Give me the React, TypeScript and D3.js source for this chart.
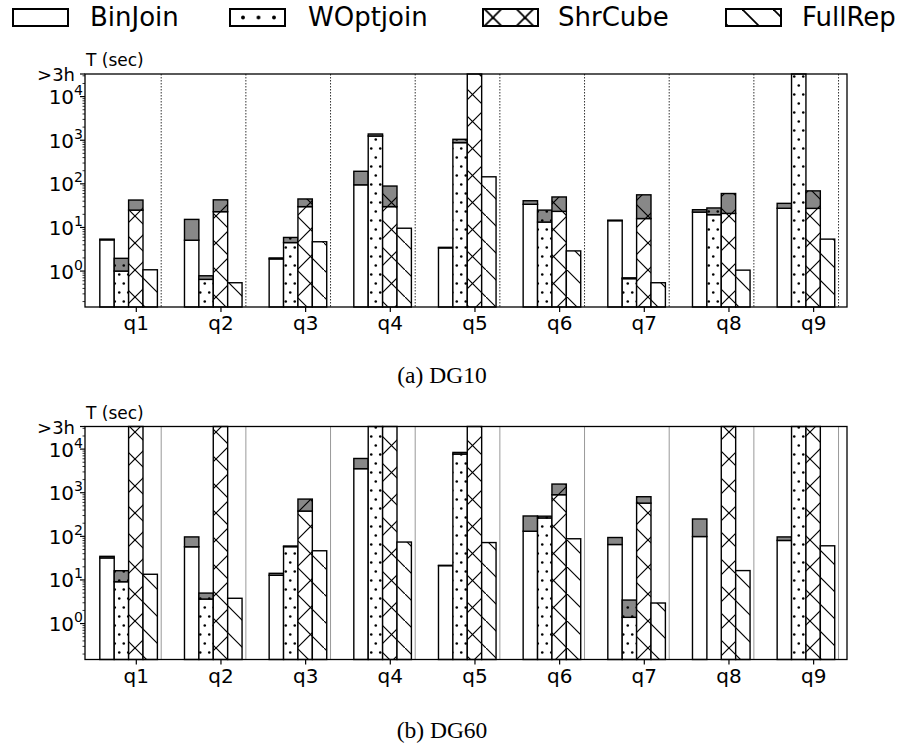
import React, { useEffect, useRef } from 'react';
import * as d3 from 'd3';

const queries = ['q1', 'q2', 'q3', 'q4', 'q5', 'q6', 'q7', 'q8', 'q9'];
const algorithms = ['BinJoin', 'WOptjoin', 'ShrCube', 'FullRep'];
const hatchIds = ['', 'hDots', 'hCross', 'hDiag'];
const legendHatch = ['', 'lDots', 'lCross', 'lDiag'];

// value used for runs that hit the ">3h" limit (drawn to the top of the axis)
const OVER = 33000;
const Y_MIN = 0.15;

// DG10: white part (base) and top of grey part (total)
const dg10BinJoinBase = [5.2, 5.1, 1.9, 95, 3.4, 34, 14.3, 22.5, 27.5];
const dg10BinJoinTotal = [5.4, 15.3, 2.0, 194, 3.5, 41, 14.7, 25.5, 35.7];
const dg10WOptjoinBase = [1.0, 0.645, 4.5, 1250, 880, 13.3, 0.67, 19.6, OVER];
const dg10WOptjoinTotal = [1.96, 0.78, 5.9, 1390, 1050, 25, 0.7, 28, OVER];
const dg10ShrCubeBase = [25, 23, 30, 30, OVER, 23.4, 16, 21, 27.4];
const dg10ShrCubeTotal = [42.5, 43, 45, 89, OVER, 50, 56, 60, 69];
const dg10FullRepBase = [1.07, 0.54, 4.7, 9.6, 145, 2.9, 0.54, 1.05, 5.4];
const dg10FullRepTotal = [1.07, 0.54, 4.7, 9.6, 145, 2.9, 0.54, 1.05, 5.4];

// DG60 (null = no bar)
const dg60BinJoinBase = [32, 57.6, 12.8, 3560, 21.3, 131, 65, 99, 80.5];
const dg60BinJoinTotal = [34.8, 97, 14.2, 6100, 21.6, 293, 94, 250, 97];
const dg60WOptjoinBase = [9.1, 3.65, 58, OVER, 7700, 264, 1.39, null, OVER];
const dg60WOptjoinTotal = [16.3, 5.0, 60, OVER, 8400, 290, 3.46, null, OVER];
const dg60ShrCubeBase = [OVER, OVER, 380, OVER, OVER, 900, 578, OVER, OVER];
const dg60ShrCubeTotal = [OVER, OVER, 715, OVER, OVER, 1580, 810, OVER, OVER];
const dg60FullRepBase = [13.5, 3.8, 46.7, 74, 72, 88, 2.96, 16.4, 60.7];
const dg60FullRepTotal = [13.5, 3.8, 46.7, 74, 72, 88, 2.96, 16.4, 60.7];

const barOffsets = [-0.34, -0.17, 0, 0.17];
const barWidth = 0.17;

type Panel = {
    base: (number | null)[][];
    total: (number | null)[][];
    top: number;
    bottom: number;
    caption: string;
    captionY: number;
    dotted: boolean;
};

const panels: Panel[] = [
    {
        base: [dg10BinJoinBase, dg10WOptjoinBase, dg10ShrCubeBase, dg10FullRepBase],
        total: [dg10BinJoinTotal, dg10WOptjoinTotal, dg10ShrCubeTotal, dg10FullRepTotal],
        top: 74, bottom: 307, caption: '(a) DG10', captionY: 383, dotted: true,
    },
    {
        base: [dg60BinJoinBase, dg60WOptjoinBase, dg60ShrCubeBase, dg60FullRepBase],
        total: [dg60BinJoinTotal, dg60WOptjoinTotal, dg60ShrCubeTotal, dg60FullRepTotal],
        top: 426.5, bottom: 659.5, caption: '(b) DG60', captionY: 738, dotted: false,
    },
];

const FONT = 'DejaVu Sans, sans-serif';

const App: React.FC = () => {
    const svgRef = useRef<SVGSVGElement | null>(null);

    useEffect(() => {
        if (!svgRef.current) return;
        const svg = d3.select(svgRef.current);
        svg.selectAll('*').remove();

        const defs = svg.append('defs');

        // chart hatches
        const dots = defs.append('pattern').attr('id', 'hDots')
            .attr('patternUnits', 'userSpaceOnUse').attr('width', 9).attr('height', 18);
        dots.append('circle').attr('cx', 2.25).attr('cy', 4.5).attr('r', 1.3).attr('fill', '#000');
        dots.append('circle').attr('cx', 6.75).attr('cy', 13.5).attr('r', 1.3).attr('fill', '#000');

        const P = 27;
        const cross = defs.append('pattern').attr('id', 'hCross')
            .attr('patternUnits', 'userSpaceOnUse').attr('width', P).attr('height', P);
        const diag = defs.append('pattern').attr('id', 'hDiag')
            .attr('patternUnits', 'userSpaceOnUse').attr('width', P).attr('height', P);
        const addBack = (p: any, s: number) => {
            p.append('line').attr('x1', -2).attr('y1', -2).attr('x2', s + 2).attr('y2', s + 2)
                .attr('stroke', '#000').attr('stroke-width', 1.2);
        };
        const addFwd = (p: any, s: number) => {
            p.append('line').attr('x1', -2).attr('y1', s + 2).attr('x2', s + 2).attr('y2', -2)
                .attr('stroke', '#000').attr('stroke-width', 1.2);
        };
        addBack(cross, P); addFwd(cross, P);
        addBack(diag, P);

        // legend hatches (legend is drawn larger)
        const lDots = defs.append('pattern').attr('id', 'lDots')
            .attr('patternUnits', 'userSpaceOnUse').attr('x', 5.25).attr('y', 0)
            .attr('width', 15.5).attr('height', 40);
        lDots.append('circle').attr('cx', 7.75).attr('cy', 8.5).attr('r', 1.9).attr('fill', '#000');
        const LP = 32;
        const lCross = defs.append('pattern').attr('id', 'lCross')
            .attr('patternUnits', 'userSpaceOnUse').attr('x', 10).attr('y', 8.5)
            .attr('width', LP).attr('height', LP);
        addBack(lCross, LP); addFwd(lCross, LP);
        lCross.selectAll('line').attr('stroke-width', 1.8);
        const lDiag = defs.append('pattern').attr('id', 'lDiag')
            .attr('patternUnits', 'userSpaceOnUse').attr('x', 16).attr('y', 0)
            .attr('width', 31).attr('height', 31);
        addBack(lDiag, 31);
        lDiag.selectAll('line').attr('stroke-width', 1.8);

        // legend
        const legendBoxX = [13, 230, 483, 726];
        const legendTextX = [90, 308, 558, 802];
        algorithms.forEach((name, i) => {
            const g = svg.append('g').attr('transform', `translate(${legendBoxX[i]},9)`);
            g.append('rect').attr('width', 55).attr('height', 17).attr('fill', '#fff');
            if (legendHatch[i]) {
                g.append('rect').attr('width', 55).attr('height', 17)
                    .attr('fill', `url(#${legendHatch[i]})`);
            }
            g.append('rect').attr('width', 55).attr('height', 17)
                .attr('fill', 'none').attr('stroke', '#000').attr('stroke-width', 2);
            svg.append('text').attr('x', legendTextX[i]).attr('y', 26)
                .attr('font-family', FONT).attr('font-size', 26).text(name);
        });

        const x = d3.scaleLinear().domain([-0.6, 8.4]).range([85, 847]);
        const bw = x(barWidth) - x(0);

        panels.forEach((panel) => {
            const y = d3.scaleLog().domain([Y_MIN, OVER]).range([panel.bottom, panel.top]);
            const g = svg.append('g');

            // group separators
            g.selectAll('line.sep')
                .data(queries)
                .enter()
                .append('line')
                .attr('x1', (_, i) => x(i + 0.3))
                .attr('x2', (_, i) => x(i + 0.3))
                .attr('y1', panel.top)
                .attr('y2', panel.bottom)
                .attr('stroke', panel.dotted ? '#333' : '#999')
                .attr('stroke-width', 1)
                .attr('stroke-dasharray', panel.dotted ? '1.5,1.5' : null);

            // bars
            algorithms.forEach((_, a) => {
                queries.forEach((__, q) => {
                    const base = panel.base[a][q];
                    const total = panel.total[a][q];
                    if (base == null || total == null) return;
                    const bx = x(q + barOffsets[a]) - bw / 2;
                    const parts: { y0: number; y1: number; fill: string }[] = [
                        { y0: y(base), y1: panel.bottom, fill: '#fff' },
                    ];
                    if (total > base) parts.push({ y0: y(total), y1: y(base), fill: '#888' });
                    parts.forEach((p) => {
                        const h = p.y1 - p.y0;
                        g.append('rect').attr('x', bx).attr('y', p.y0).attr('width', bw).attr('height', h)
                            .attr('fill', p.fill);
                        if (hatchIds[a]) {
                            g.append('rect').attr('x', bx).attr('y', p.y0).attr('width', bw).attr('height', h)
                                .attr('fill', `url(#${hatchIds[a]})`);
                        }
                        g.append('rect').attr('x', bx).attr('y', p.y0).attr('width', bw).attr('height', h)
                            .attr('fill', 'none').attr('stroke', '#000').attr('stroke-width', 1.4);
                    });
                });
            });

            // frame
            g.append('rect').attr('x', 85).attr('y', panel.top)
                .attr('width', 847 - 85).attr('height', panel.bottom - panel.top)
                .attr('fill', 'none').attr('stroke', '#000').attr('stroke-width', 1.3);

            // x axis
            const xAxis = d3.axisBottom(x)
                .tickValues(d3.range(queries.length))
                .tickFormat((d) => queries[d as number])
                .tickSize(5)
                .tickPadding(4);
            const xg = g.append('g').attr('transform', `translate(0,${panel.bottom})`).call(xAxis);
            xg.select('.domain').remove();
            xg.selectAll('line').attr('stroke', '#000').attr('stroke-width', 1.2);
            xg.selectAll('text').attr('font-family', FONT).attr('font-size', 20).attr('fill', '#000');

            // y axis: major and minor ticks
            const majors = [1, 10, 100, 1000, 10000];
            const minors: number[] = [];
            for (let e = -1; e <= 4; e++) {
                for (let m = 2; m <= 9; m++) {
                    const v = m * Math.pow(10, e);
                    if (v >= Y_MIN && v <= OVER) minors.push(v);
                }
            }
            g.selectAll('line.minor').data(minors).enter().append('line')
                .attr('x1', 85).attr('x2', 82.5)
                .attr('y1', (d) => y(d)).attr('y2', (d) => y(d))
                .attr('stroke', '#000').attr('stroke-width', 0.8);
            g.selectAll('line.major').data([...majors, OVER]).enter().append('line')
                .attr('x1', 85).attr('x2', 80)
                .attr('y1', (d) => y(d)).attr('y2', (d) => y(d))
                .attr('stroke', '#000').attr('stroke-width', 1.2);
            majors.forEach((v, i) => {
                const t = g.append('text').attr('x', 83).attr('y', y(v) + 7.5)
                    .attr('text-anchor', 'end').attr('font-family', FONT).attr('font-size', 20);
                t.append('tspan').text('10');
                t.append('tspan').attr('dy', -9).attr('font-size', 14).text(String(i));
            });
            g.append('text').attr('x', 75).attr('y', y(OVER) + 7)
                .attr('text-anchor', 'end').attr('font-family', FONT).attr('font-size', 18)
                .text('>3h');

            g.append('text').attr('x', 86).attr('y', panel.top - 8)
                .attr('font-family', FONT).attr('font-size', 17).text('T (sec)');

            g.append('text').attr('x', 442).attr('y', panel.captionY)
                .attr('text-anchor', 'middle')
                .attr('font-family', 'Liberation Serif, Times New Roman, serif')
                .attr('font-size', 23.5).text(panel.caption);
        });
    }, []);

    return (
        <svg ref={svgRef} width={901} height={743}
            style={{ position: 'absolute', left: 0, top: 0, background: '#fff' }} />
    );
};

export default App;
